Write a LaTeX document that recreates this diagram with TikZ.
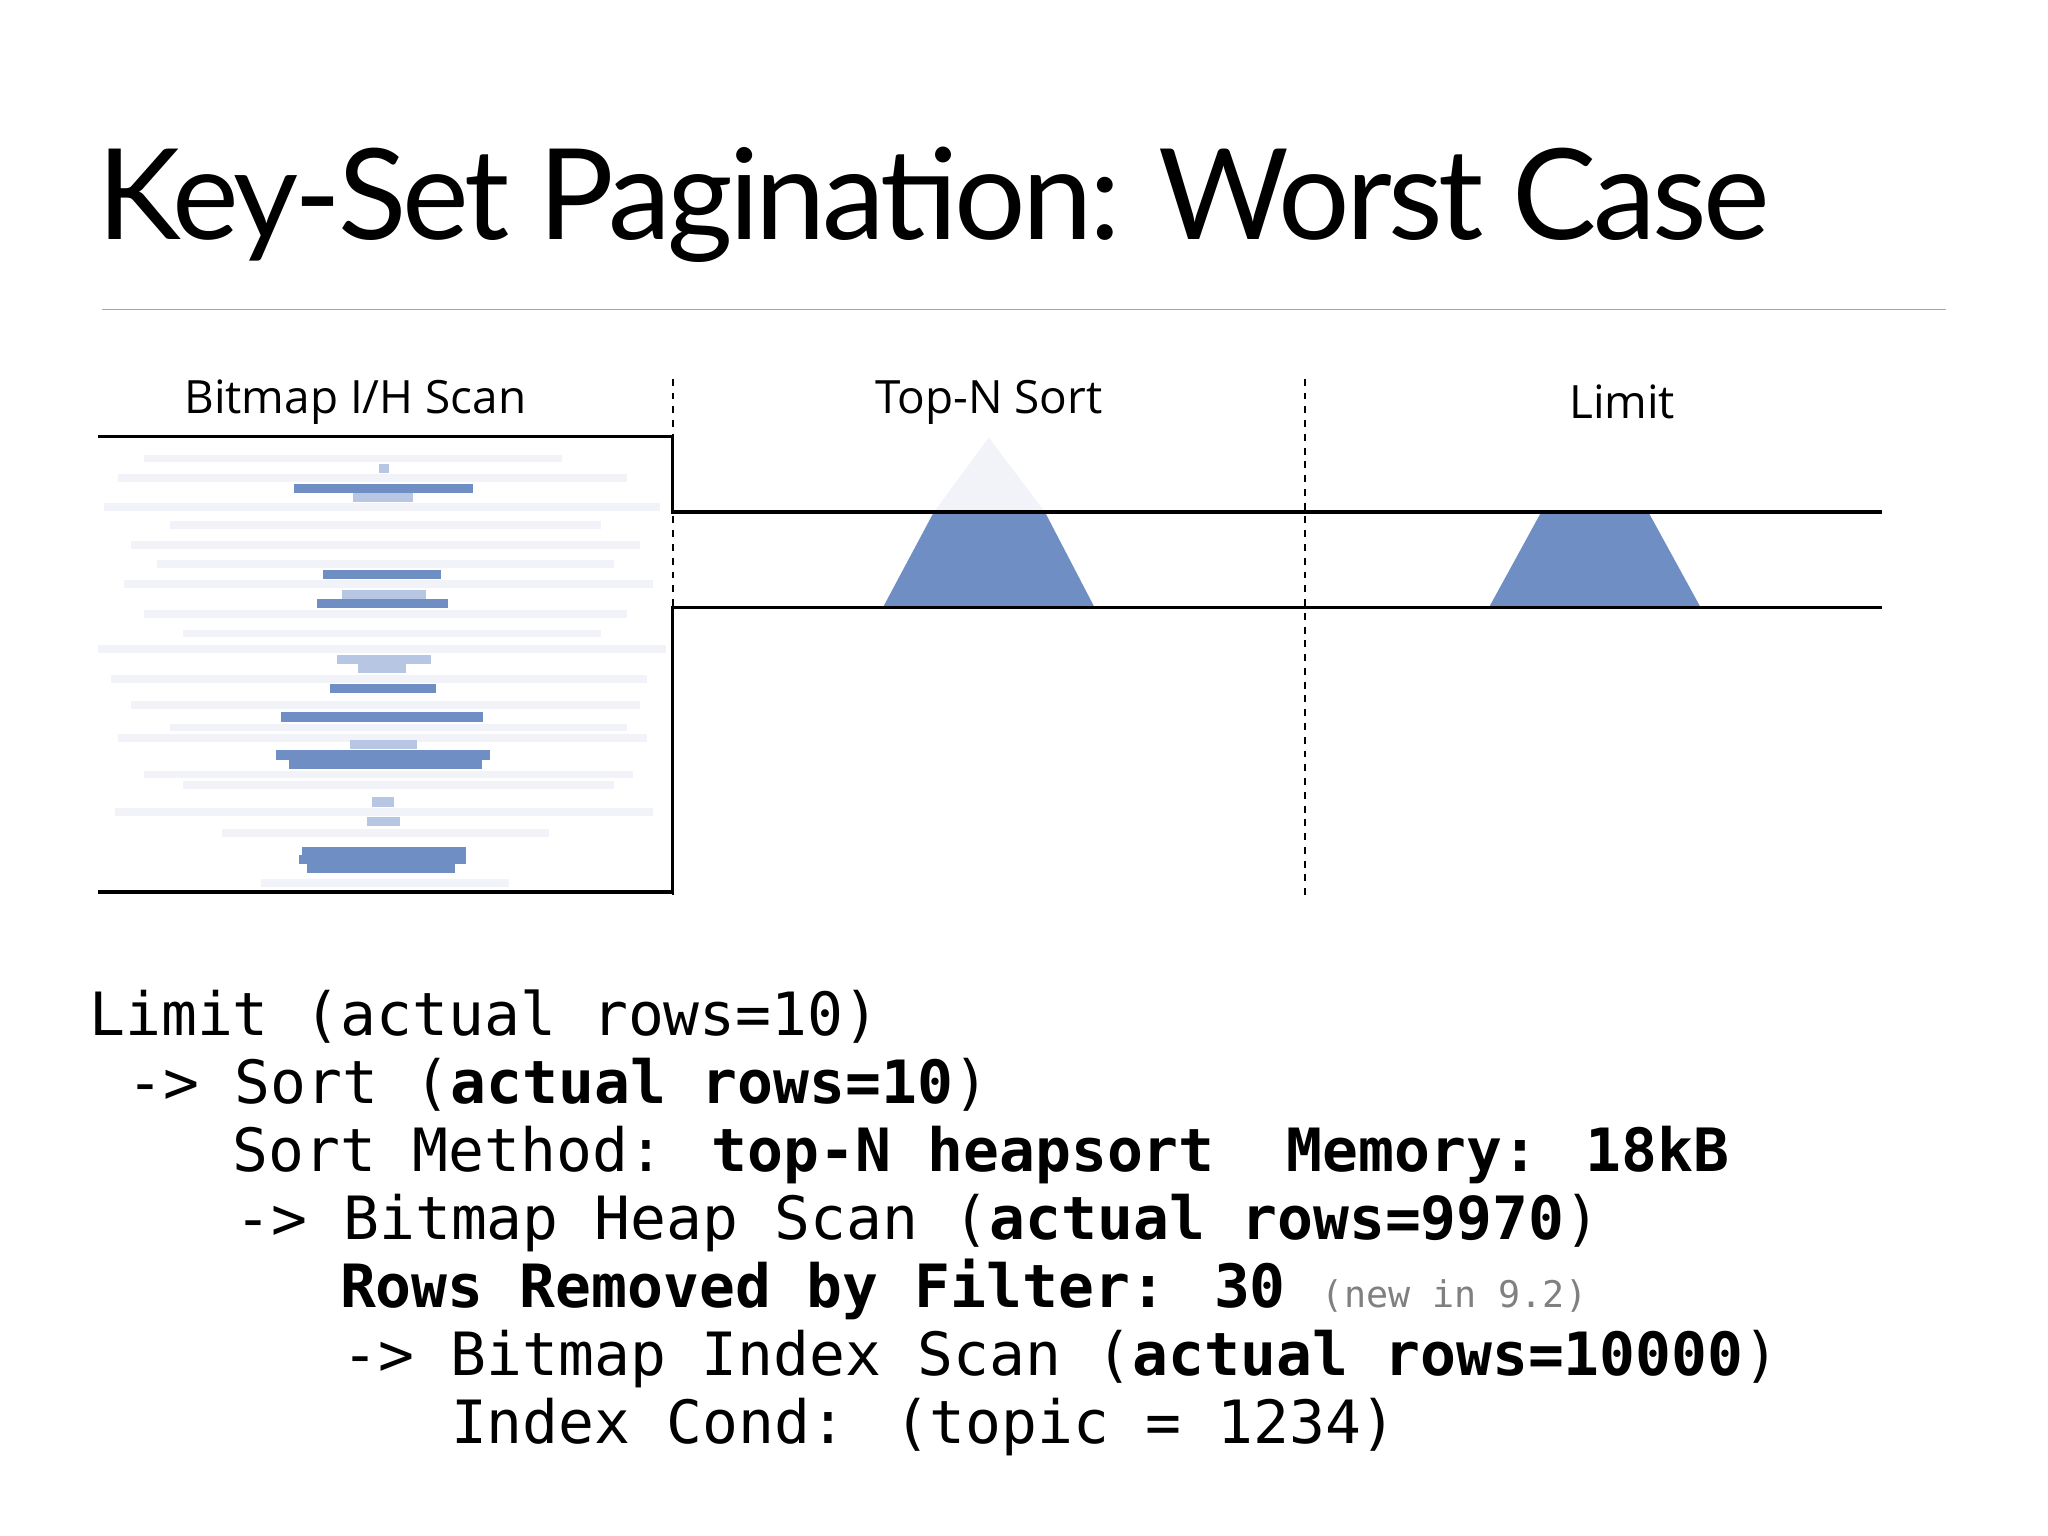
\documentclass[tikz,border=0pt]{standalone}
\usepackage{fontspec}
\setmainfont{Lato}
\newfontfamily\labelfont{Open Sans}
\newfontfamily\codefont{DejaVu Sans Mono}
\definecolor{barblue}{HTML}{6F8FC4}
\definecolor{paleblue}{HTML}{B7C6E2}
\definecolor{palegray}{HTML}{F1F3F8}
\tikzset{
  phase/.style={font=\labelfont\fontsize{20pt}{24pt}\selectfont},
  codeline/.style={anchor=base west, inner sep=0pt, font=\codefont\fontsize{26pt}{30pt}\selectfont},
  planline/.style={line width=1.4pt}
}
\begin{document}
\begin{tikzpicture}[x=0.02cm,y=-0.02cm]
\useasboundingbox (0,0) rectangle (1568,1176);

% title and rule
\node[anchor=base west, inner sep=0pt, font=\fontsize{55pt}{62pt}\selectfont\addfontfeature{LetterSpace=-3}] (title) at (74,183) {Key-Set Pagination: Worst Case};
\draw[gray!70, line width=0.8pt] (78,237) -- (1490,237);

% phase labels
\node[phase] (scanlbl) at (272,308) {Bitmap I/H Scan};
\node[phase] (sortlbl) at (757,308) {Top-N Sort};
\node[phase] (limitlbl) at (1242,308) {Limit};
\draw[dashed, line width=0.8pt] (515,290) -- (515,690);
\draw[dashed, line width=0.8pt] (999,290) -- (999,690);

% faint background rows
\foreach \a/\b/\y in {110/430/351,90/480/366,80/505/388,130/460/402,100/490/417,120/470/432,95/500/447,110/480/470,140/460/485,75/510/497,85/495/520,100/490/540,130/480/557,90/495/565,110/485/593,140/470/601,88/500/622,170/420/638,200/390/676}
  \fill[palegray] (\a,\y-3) rectangle (\b,\y+3);

% scan hits
\foreach \a/\b/\y in {290/298/359,270/316/381,262/326/455,258/330/505,274/311/512,268/319/570,285/302/614,281/306/629}
  \fill[paleblue] (\a,\y-3.5) rectangle (\b,\y+3.5);
\foreach \a/\b/\y in {225/362/374,247/338/440,243/343/462,253/334/527,215/370/549,211/375/578,221/369/585,231/357/652,229/357/658,235/348/665}
  \fill[barblue] (\a,\y-3.5) rectangle (\b,\y+3.5);

% heaps
\fill[palegray] (757,335) -- (715,392) -- (800,392) -- cycle;
\fill[barblue] (676,465) -- (715,392) -- (800,392) -- (838,465) -- cycle;
\fill[barblue] (1140,465) -- (1180,392) -- (1262,392) -- (1302,465) -- cycle;

% row flow outline
\draw[planline] (75,334) -- (515,334) -- (515,392) -- (1441,392);
\draw[planline] (1441,465) -- (515,465) -- (515,683) -- (75,683);

% plan text
\node[codeline] (l1) at (68,793) {Limit (actual rows=10)};
\node[codeline] (l2) at (97,845) {-> Sort (\textbf{actual rows=10})};
\node[codeline] (l3) at (178,897) {Sort Method: \textbf{top-N heapsort\ \ Memory: 18kB}};
\node[codeline] (l4) at (180,949) {-> Bitmap Heap Scan (\textbf{actual rows=9970})};
\node[codeline] (l5) at (260,1001) {\textbf{Rows Removed by Filter: 30} {\fontsize{16pt}{18pt}\selectfont\color{gray}(new in 9.2)}};
\node[codeline] (l6) at (262,1053) {-> Bitmap Index Scan (\textbf{actual rows=10000})};
\node[codeline] (l7) at (345,1105) {Index Cond: (topic = 1234)};
\end{tikzpicture}
\end{document}
